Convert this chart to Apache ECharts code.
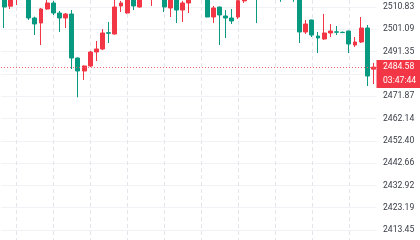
<!DOCTYPE html>
<html>
<head>
<meta charset="utf-8">
<script src="https://cdn.jsdelivr.net/npm/echarts@6/dist/echarts.min.js"></script>
<style>
html,body{margin:0;padding:0;background:#fff;}
#c{width:420px;height:240px;}
</style>
</head>
<body>
<div id="c"></div>
<script>
// ---- data ----
const categories = Array.from({length: 61}, (_, i) => String(i + 1));
const opens  = [2516.0,2511.2,2514.5,2520.5,2518.5,2506.03,2503.84,2509.96,2512.58,2508.21,
                2506.03,2507.77,2488.56,2482.88,2485.07,2491.18,2492.49,2499.6,2499.04,2511.27,
                2508.21,2516.0,2510.83,2515.0,2517.0,2520.0,2518.0,2510.39,2516.0,2509.52,
                2512.58,2515.5,2518.0,2516.0,2506.46,2510.83,2506.90,2506.03,2506.46,2513.5,
                2516.0,2519.0,2515.5,2514.5,2517.0,2519.0,2516.0,2518.0,2516.0,2499.91,
                2505.15,2498.17,2496.86,2499.48,2500.0,2499.8,2500.35,2494.24,2495.55,2501.66,
                2483.7];
const closes = [2510.83,2515.5,2518.0,2518.5,2506.03,2503.41,2509.96,2512.58,2508.21,2506.03,
                2507.77,2488.56,2482.88,2485.07,2491.18,2492.49,2499.48,2499.35,2510.83,2512.58,
                2516.0,2511.27,2515.0,2518.0,2520.0,2518.0,2510.83,2516.0,2509.52,2512.58,
                2515.5,2518.0,2516.0,2506.46,2510.39,2507.34,2506.03,2504.72,2513.6,2516.0,
                2519.0,2515.0,2514.5,2517.0,2519.0,2516.0,2518.0,2516.0,2499.91,2503.41,
                2498.60,2497.29,2499.48,2500.35,2499.8,2499.65,2494.67,2495.55,2501.66,2480.70,
                2484.58];
const lows   = [2501.66,2509.96,2511.7,2516.5,2505.15,2498.60,2494.24,2509.6,2507.34,2499.91,
                2501.66,2483.76,2471.4,2478.95,2484.6,2487.25,2492.0,2495.11,2498.8,2508.65,
                2507.9,2509.52,2510.5,2514.3,2511.27,2516.5,2508.65,2506.46,2503.84,2504.28,
                2508.21,2514.2,2515.0,2506.3,2503.84,2494.24,2497.29,2503.41,2505.59,2512.58,
                2514.5,2503.84,2514.2,2514.1,2516.0,2513.1,2514.5,2513.1,2495.11,2499.04,
                2497.73,2490.74,2496.42,2497.73,2498.60,2499.45,2490.74,2493.36,2495.11,2476.33,
                2477.2];
const highs  = [2518.0,2517.0,2519.5,2522.0,2519.5,2506.6,2510.4,2514.8,2513.5,2509.08,
                2508.21,2509.52,2488.8,2485.3,2491.6,2495.98,2501.22,2504.28,2514.5,2513.5,
                2517.0,2517.0,2516.0,2519.0,2521.0,2522.0,2519.0,2517.0,2517.0,2513.5,
                2516.5,2519.0,2520.0,2517.0,2511.27,2511.0,2509.5,2509.96,2514.5,2517.0,
                2520.0,2520.0,2517.0,2518.0,2520.0,2520.0,2519.0,2519.5,2517.0,2505.15,
                2505.3,2499.91,2507.77,2503.41,2502.53,2500.1,2500.5,2497.73,2506.46,2502.97,
                2486.4];
const yTickLabels = ['2510.83','2501.09','2491.35','2481.61','2471.87','2462.14',
                     '2452.40','2442.66','2432.92','2423.19','2413.45'];
const lastPrice = 2484.58;
const countdown = '03:47:44';

// ---- chart ----
const UP = '#f23645', DOWN = '#089981';
const FONT = 'Roboto, "Noto Sans", sans-serif';
const ohlc = categories.map((_, i) => [opens[i], closes[i], lows[i], highs[i]]);
const tickVals = yTickLabels.map(Number);
const priceLineStyle = {color: '#f2606c', type: [1, 2], width: 1, opacity: 1};

const chart = echarts.init(document.getElementById('c'), null, {renderer: 'canvas'});
chart.setOption({
  animation: false,
  backgroundColor: '#ffffff',
  grid: {left: 1, right: 43.5, top: 0, bottom: 0, containLabel: false},
  xAxis: {
    type: 'category',
    data: categories,
    boundaryGap: true,
    axisLine: {show: false},
    axisTick: {show: false},
    axisLabel: {show: false},
    splitLine: {
      show: true,
      alignWithLabel: true,
      interval: (idx) => idx % 6 === 2,
      lineStyle: {color: '#e3e5ea', width: 1, type: [4, 3]}
    }
  },
  yAxis: {
    type: 'value',
    position: 'right',
    min: 2409.08,
    max: 2513.89,
    scale: true,
    axisLine: {show: false},
    axisTick: {show: false, customValues: tickVals},
    axisLabel: {
      customValues: tickVals,
      formatter: (v) => v.toFixed(2),
      color: '#383b45',
      fontSize: 8.6,
      fontFamily: FONT,
      margin: 6.5
    },
    splitLine: {show: true, lineStyle: {color: '#f0f2f5', width: 1}}
  },
  series: [{
    type: 'candlestick',
    data: ohlc,
    barWidth: 4.4,
    clip: true,
    itemStyle: {color: UP, color0: DOWN, borderColor: UP, borderColor0: DOWN, borderWidth: 1},
    markLine: {
      silent: true,
      symbol: 'none',
      animation: false,
      itemStyle: {color: '#f2606c'},
      lineStyle: priceLineStyle,
      label: {
        show: true,
        position: 'end',
        distance: 0,
        formatter: '{s| }\n{a|' + lastPrice.toFixed(2) + '}\n{b|' + countdown + '}',
        rich: {
          s: {height: 14, lineHeight: 14, fontSize: 8.6},
          a: {backgroundColor: UP, color: '#ffffff', width: 31, height: 14, lineHeight: 14,
              padding: [0, 8, 0, 6.5], fontSize: 8.6, fontFamily: FONT},
          b: {backgroundColor: UP, color: '#ffffff', width: 31, height: 14, lineHeight: 14,
              padding: [0, 8, 0, 6.5], fontSize: 8.6, fontFamily: FONT}
        }
      },
      data: [{yAxis: lastPrice, lineStyle: priceLineStyle}]
    }
  }]
});
</script>
</body>
</html>
